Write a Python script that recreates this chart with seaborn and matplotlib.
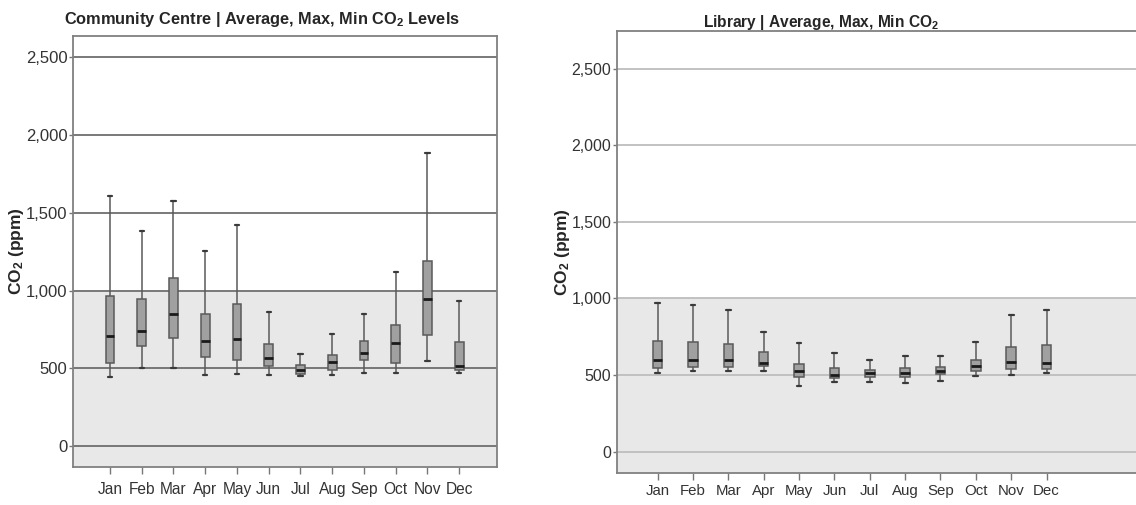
import numpy as np
import pandas as pd
import seaborn as sns
import matplotlib.pyplot as plt

months = ['Jan', 'Feb', 'Mar', 'Apr', 'May', 'Jun', 'Jul', 'Aug', 'Sep', 'Oct', 'Nov', 'Dec']

# Community Centre: min, q1, median, q3, max (ppm)
cc_min = [446, 500, 504, 455, 461, 455, 450, 455, 472, 472, 547, 472]
cc_q1 = [534, 643, 692, 570, 553, 517, 465, 489, 553, 536, 712, 489]
cc_med = [707, 740, 847, 677, 688, 568, 489, 542, 596, 660, 943, 515]
cc_q3 = [967, 943, 1083, 849, 911, 656, 519, 583, 675, 776, 1190, 671]
cc_max = [1608, 1385, 1574, 1252, 1419, 860, 590, 720, 849, 1119, 1885, 933]

# Library: min, q1, median, q3, max (ppm)
lib_min = [516, 525, 527, 529, 431, 453, 455, 451, 464, 494, 497, 516]
lib_q1 = [547, 553, 553, 558, 486, 479, 490, 486, 505, 527, 540, 540]
lib_med = [595, 599, 597, 579, 525, 499, 514, 516, 527, 558, 582, 577]
lib_q3 = [721, 717, 701, 649, 575, 547, 536, 547, 553, 601, 682, 697]
lib_max = [971, 956, 923, 784, 706, 647, 601, 627, 623, 717, 891, 923]


def to_long(lo, q1, med, q3, hi):
    # five points per month give exactly these quartiles with whiskers at min/max
    rows = []
    for i, m in enumerate(months):
        for v in (lo[i], q1[i], med[i], q3[i], hi[i]):
            rows.append({'month': m, 'co2': v})
    return pd.DataFrame(rows)


sns.set_style('white')
plt.rcParams['font.family'] = ['Liberation Sans', 'DejaVu Sans']
plt.rcParams['mathtext.default'] = 'regular'

fig = plt.figure(figsize=(11.36, 5.05), dpi=100)

panels = [
    dict(df=to_long(cc_min, cc_q1, cc_med, cc_q3, cc_max),
         rect=[73 / 1136, 38 / 505, 424 / 1136, 431 / 505],
         ylim=(-135, 2637), xlim=(-1.165, 12.19), shade=990,
         grid='#6e6e6e', title='Community Centre | Average, Max, Min CO$_2$ Levels',
         tsize=11.8, tx=0.445, tpad=9, xfs=11.2, xpad=6, yfs=12, lx=-0.112,
         spine_right=True),
    dict(df=to_long(lib_min, lib_q1, lib_med, lib_q3, lib_max),
         rect=[617 / 1136, 32 / 505, 525 / 1136, 442 / 505],
         ylim=(-140, 2747), xlim=(-1.15, 13.7), shade=1000,
         grid='#bdbdbd', title='Library | Average, Max, Min CO$_2$',
         tsize=11.2, tx=0.388, tpad=3, xfs=10.8, xpad=3, yfs=11.5, lx=-0.086,
         spine_right=False),
]

for p in panels:
    ax = fig.add_axes(p['rect'])
    ax.axhspan(-1000, p['shade'], color='#e8e8e8', zorder=0, lw=0)
    for v in range(0, 3000, 500):
        ax.axhline(v, color=p['grid'], lw=1.3, zorder=1)

    sns.boxplot(data=p['df'], x='month', y='co2', ax=ax, whis=(0, 100),
                width=0.27, color='#a0a0a0', linecolor='#5a5a5a', linewidth=1.1,
                medianprops={'color': '#1a1a1a', 'linewidth': 2.0},
                capprops={'color': '#3a3a3a', 'linewidth': 1.6},
                fliersize=0, zorder=3)

    ax.set_xlim(p['xlim'])
    ax.set_ylim(p['ylim'])
    ax.set_yticks(range(0, 3000, 500))
    ax.set_yticklabels([f'{v:,}' for v in range(0, 3000, 500)])
    ax.tick_params(axis='x', length=5, width=1, color='#777777', labelsize=p['xfs'],
                   labelcolor='#333333', pad=p['xpad'], bottom=True)
    ax.tick_params(axis='y', length=3, width=1, color='#777777', labelsize=p['yfs'],
                   labelcolor='#333333', pad=1, left=True)
    ax.set_xlabel('')
    ax.set_ylabel('CO$_2$ (ppm)', fontsize=12.5, fontweight='bold')
    ax.yaxis.set_label_coords(p['lx'], 0.5)
    ax.set_title(p['title'], fontsize=p['tsize'], fontweight='bold', x=p['tx'], pad=p['tpad'])

    for side, sp in ax.spines.items():
        sp.set_color('#808080')
        sp.set_linewidth(1.3)
    ax.spines['right'].set_visible(p['spine_right'])

fig.savefig('out.png', dpi=100)
